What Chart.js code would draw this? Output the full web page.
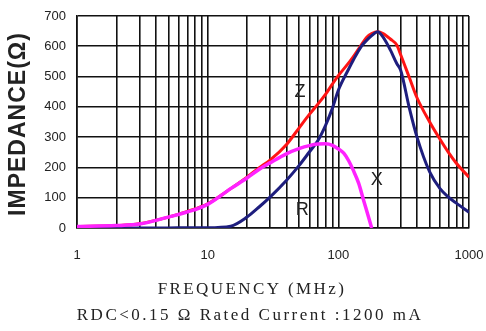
<!DOCTYPE html>
<html>
<head>
<meta charset="utf-8">
<script src="https://cdn.jsdelivr.net/npm/chart.js@4/dist/chart.umd.min.js"></script>
<style>
  html, body { margin: 0; padding: 0; background: #fff; }
  #impedanceChart { display: block; }
</style>
</head>
<body>
<canvas id="impedanceChart" width="486" height="331"></canvas>
<script>
// frequency points (MHz) and impedance readings (ohm)
var freq    = [1, 2, 3, 5, 7, 10, 15, 20, 25, 30, 40, 50, 60, 70, 80, 90, 100, 120, 130, 150, 165, 180, 200, 220, 250, 280, 300, 350, 400, 500, 600, 700, 800, 1000];
var zValues = [5, 8, 14, 36, 55, 80, 130, 168, 200, 224, 275, 330, 375, 410, 442, 475, 503, 545, 565, 605, 630, 642, 648, 642, 624, 604, 572, 496, 430, 350, 293, 248, 214, 168];
var xValues = [0, 0, 0, 0, 1, 1, 6, 36, 71, 102, 157, 206, 251, 290, 340, 395, 455, 525, 554, 600, 620, 635, 648, 630, 588, 543, 521, 395, 300, 185, 130, 101, 82, 52];

// R falls off sharply, so it gets its own denser frequency list
var freqR   = [1, 2, 3, 5, 7, 10, 15, 20, 25, 30, 40, 50, 60, 70, 80, 90, 100, 110, 120, 130, 143, 156, 170, 180];
var rValues = [5, 8, 13, 36, 53, 78, 130, 165, 195, 215, 245, 262, 272, 277, 278, 273, 261, 247, 222, 191, 148, 92, 37, 0];

var xLabels = [1, 10, 100, 1000];
var yMax = 700;
var yStep = 100;

// curve tags drawn inside the plot: [text, freq, ohm]
var curveTags = [['Z', 51, 449], ['X', 197, 158], ['R', 53, 59]];

function toPoints(xs, values) {
    return values.map(function (v, i) { return { x: xs[i], y: v }; });
}

// grid lines at 1..9 of every decade
var logTicks = [];
for (var d = 1; d < 1000; d *= 10) {
    for (var k = 1; k < 10; k++) logTicks.push({ value: k * d });
}
logTicks.push({ value: 1000 });

var textPlugin = {
    id: 'textPlugin',
    afterDraw: function (chart) {
        var c = chart.ctx;
        var xs = chart.scales.x, ys = chart.scales.y;
        c.save();
        c.fillStyle = '#222';
        c.textAlign = 'center';
        c.textBaseline = 'middle';

        // curve names
        c.font = '18px "Liberation Sans", Arial, sans-serif';
        curveTags.forEach(function (t) {
            c.fillText(t[0], xs.getPixelForValue(t[1]), ys.getPixelForValue(t[2]));
        });

        // x axis caption
        c.font = '17px "Liberation Serif", "Times New Roman", serif';
        c.letterSpacing = '2.4px';
        c.fillText('FREQUENCY (MHz)', 252, 290);
        c.letterSpacing = '2.5px';
        c.fillText('RDC<0.15 \u03A9 Rated Current :1200 mA', 250, 316);

        // y axis caption
        c.letterSpacing = '1px';
        c.font = 'bold 23px "Liberation Sans", Arial, sans-serif';
        c.translate(19, (chart.chartArea.top + chart.chartArea.bottom) / 2 + 2);
        c.rotate(-Math.PI / 2);
        c.fillText('IMPEDANCE(\u03A9)', 0, 0);
        c.restore();
    }
};

var ctx = document.getElementById('impedanceChart').getContext('2d');
var chart = new Chart(ctx, {
    type: 'line',
    data: {
        datasets: [
            {
                label: 'R',
                data: toPoints(freqR, rValues),
                borderColor: '#ff22ff',
                borderWidth: 3.5,
                order: 1
            },
            {
                label: 'X',
                data: toPoints(freq, xValues),
                borderColor: '#1e1e7e',
                borderWidth: 3,
                order: 2
            },
            {
                label: 'Z',
                data: toPoints(freq, zValues),
                borderColor: '#ff1414',
                borderWidth: 3,
                order: 3
            }
        ]
    },
    options: {
        responsive: false,
        animation: false,
        layout: { padding: { top: 16, right: 17, left: 0, bottom: 0 } },
        elements: {
            point: { radius: 0 },
            line: { cubicInterpolationMode: 'monotone', fill: false }
        },
        plugins: {
            legend: { display: false },
            tooltip: { enabled: false }
        },
        scales: {
            x: {
                type: 'logarithmic',
                min: 1,
                max: 1000,
                afterBuildTicks: function (s) { s.ticks = logTicks.slice(); },
                afterFit: function (s) {
                    s.height = 103;
                    s.paddingLeft = 0;
                    s.paddingRight = 0;
                },
                ticks: {
                    autoSkip: false,
                    maxRotation: 0,
                    padding: 20,
                    color: '#222',
                    font: { family: '"Liberation Sans", Arial, sans-serif', size: 13 },
                    callback: function (v) { return xLabels.indexOf(v) >= 0 ? String(v) : ''; }
                },
                grid: { color: '#111', lineWidth: 1.6, drawTicks: false },
                border: { color: '#111', width: 1.6 }
            },
            y: {
                min: 0,
                max: yMax,
                afterFit: function (s) {
                    s.width = 77;
                    s.paddingTop = 0;
                    s.paddingBottom = 0;
                },
                ticks: {
                    stepSize: yStep,
                    padding: 11,
                    color: '#222',
                    font: { family: '"Liberation Sans", Arial, sans-serif', size: 13 }
                },
                grid: { color: '#111', lineWidth: 1.6, drawTicks: false },
                border: { color: '#111', width: 1.6 }
            }
        }
    },
    plugins: [textPlugin]
});
</script>
</body>
</html>
